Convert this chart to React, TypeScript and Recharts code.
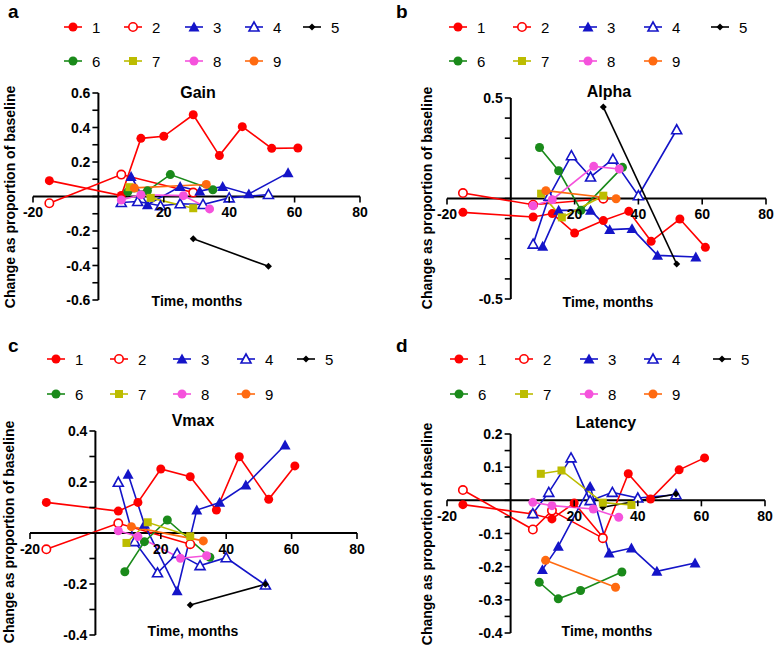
import { LineChart, Line, XAxis, YAxis, ReferenceLine } from 'recharts'

const FONT = 'Arial, "Liberation Sans", Helvetica, sans-serif'

// visit times (months) per patient
const MONTHS_1 = [-15, 7, 13, 20, 29, 37, 44, 53, 61]
const MONTHS_2 = [-15, 7, 13, 29]
const MONTHS_3 = [10, 15, 25, 31, 38, 46, 58]
const MONTHS_4 = [7, 12, 19, 25, 32, 40, 52]
const MONTHS_5 = [29, 52]
const MONTHS_6 = [9, 15, 22, 35]
const MONTHS_7 = [9.5, 16, 29, 38]
const MONTHS_8 = [7, 13, 26, 34]
const MONTHS_9 = [11, 33]

// Gain
const GAIN_1 = [0.092, 0.006, 0.337, 0.349, 0.474, 0.237, 0.405, 0.279, 0.281]
const GAIN_2 = [-0.039, 0.127, null, 0.023]
const GAIN_3 = [0.116, -0.048, 0.058, 0.031, 0.058, 0.015, 0.137]
const GAIN_4 = [-0.035, -0.029, -0.054, -0.042, -0.046, -0.008, 0.012]
const GAIN_5 = [-0.245, -0.405]
const GAIN_6 = [0.027, 0.033, 0.127, 0.039]
const GAIN_7 = [0.054, -0.008, -0.068, null]
const GAIN_8 = [-0.02, 0.01, 0.005, -0.072]
const GAIN_9 = [0.05, 0.07]

// Alpha
const ALPHA_1 = [-0.069, -0.092, -0.075, -0.172, -0.11, -0.064, -0.213, -0.102, -0.243]
const ALPHA_2 = [0.027, -0.031, null, -0.001]
const ALPHA_3 = [-0.238, -0.059, -0.059, -0.155, -0.15, -0.283, -0.291]
const ALPHA_4 = [-0.227, 0.011, 0.213, 0.107, 0.196, 0.014, 0.342]
const ALPHA_5 = [0.455, -0.326]
const ALPHA_6 = [0.254, 0.138, -0.059, 0.155]
const ALPHA_7 = [0.024, -0.094, 0.014, null]
const ALPHA_8 = [-0.036, -0.006, 0.16, 0.147]
const ALPHA_9 = [0.039, -0.001]

// Vmax
const VMAX_1 = [0.12, 0.086, 0.12, 0.251, 0.221, 0.09, 0.299, 0.132, 0.263]
const VMAX_2 = [-0.064, 0.038, null, -0.044]
const VMAX_3 = [0.23, 0.034, -0.227, 0.09, 0.12, 0.188, 0.345]
const VMAX_4 = [0.199, -0.034, -0.156, -0.08, -0.128, -0.097, -0.204]
const VMAX_5 = [-0.282, -0.201]
const VMAX_6 = [-0.152, -0.034, 0.051, -0.095]
const VMAX_7 = [-0.039, 0.042, -0.013, null]
const VMAX_8 = [0.009, -0.014, -0.099, -0.089]
const VMAX_9 = [0.025, -0.031]

// Latency
const LAT_1 = [-0.013, -0.041, -0.056, -0.008, -0.111, 0.08, 0.004, 0.092, 0.128]
const LAT_2 = [0.031, -0.088, -0.031, -0.114]
const LAT_3 = [-0.209, -0.139, 0.042, -0.159, -0.144, -0.214, -0.189]
const LAT_4 = [-0.04, 0.024, 0.128, -0.001, 0.024, 0.007, 0.017]
const LAT_5 = [-0.021, 0.019]
const LAT_6 = [-0.247, -0.297, -0.272, -0.216]
const LAT_7 = [0.08, 0.09, -0.007, -0.014]
const LAT_8 = [-0.006, -0.016, -0.026, -0.051]
const LAT_9 = [-0.181, -0.262]

const X_TICKS = [-20, 20, 40, 60, 80]
const GAIN_TICKS = [-0.6, -0.5, -0.4, -0.3, -0.2, -0.1, 0, 0.1, 0.2, 0.3, 0.4, 0.5, 0.6]
const GAIN_LABELS = [-0.6, -0.4, -0.2, 0.2, 0.4, 0.6]
const ALPHA_TICKS = [-0.5, -0.4, -0.3, -0.2, -0.1, 0, 0.1, 0.2, 0.3, 0.4, 0.5]
const ALPHA_LABELS = [-0.5, 0.5]
const VMAX_TICKS = [-0.4, -0.3, -0.2, -0.1, 0, 0.1, 0.2, 0.3, 0.4]
const VMAX_LABELS = [-0.4, -0.2, 0.2, 0.4]
const LAT_TICKS = [-0.4, -0.35, -0.3, -0.25, -0.2, -0.15, -0.1, -0.05, 0, 0.05, 0.1, 0.15, 0.2]
const LAT_LABELS = [-0.4, -0.3, -0.2, -0.1, 0.1, 0.2]

const SERIES = [
  { name: '1', color: '#ff0000', shape: 'circle', months: MONTHS_1 },
  { name: '2', color: '#ff0000', shape: 'circleOpen', months: MONTHS_2 },
  { name: '3', color: '#1414c8', shape: 'triangle', months: MONTHS_3 },
  { name: '4', color: '#1414c8', shape: 'triangleOpen', months: MONTHS_4 },
  { name: '5', color: '#000000', shape: 'diamond', months: MONTHS_5 },
  { name: '6', color: '#1a8a1a', shape: 'circle', months: MONTHS_6 },
  { name: '7', color: '#bcbc00', shape: 'square', months: MONTHS_7 },
  { name: '8', color: '#f552dc', shape: 'circle', months: MONTHS_8 },
  { name: '9', color: '#ff6a10', shape: 'circle', months: MONTHS_9 },
]

// plot box inside each panel: left/top/right/bottom offsets in px
const PANELS = [
  {
    letter: 'a', title: 'Gain', left: 0, top: 0, width: 389, height: 323,
    plot: { top: 93, right: 29, bottom: 23, left: 33 },
    yDomain: [-0.6, 0.6], yTicks: GAIN_TICKS, yLabels: GAIN_LABELS,
    values: [GAIN_1, GAIN_2, GAIN_3, GAIN_4, GAIN_5, GAIN_6, GAIN_7, GAIN_8, GAIN_9],
    letterPos: [8, 17.5], titlePos: [198, 97.5], xLabelPos: [197, 306], yLabelPos: [10, 197],
    legendX: [64, 124, 185, 245, 303], legendY: [27, 61],
  },
  {
    letter: 'b', title: 'Alpha', left: 389, top: 0, width: 389, height: 323,
    plot: { top: 98, right: 12, bottom: 24, left: 58 },
    yDomain: [-0.5, 0.5], yTicks: ALPHA_TICKS, yLabels: ALPHA_LABELS,
    values: [ALPHA_1, ALPHA_2, ALPHA_3, ALPHA_4, ALPHA_5, ALPHA_6, ALPHA_7, ALPHA_8, ALPHA_9],
    letterPos: [396, 17.5], titlePos: [609, 96.5], xLabelPos: [608, 307], yLabelPos: [427, 198],
    legendX: [449, 513, 579, 644, 711], legendY: [27, 61],
  },
  {
    letter: 'c', title: 'Vmax', left: 0, top: 323, width: 389, height: 324,
    plot: { top: 108, right: 32, bottom: 12, left: 30 },
    yDomain: [-0.4, 0.4], yTicks: VMAX_TICKS, yLabels: VMAX_LABELS,
    values: [VMAX_1, VMAX_2, VMAX_3, VMAX_4, VMAX_5, VMAX_6, VMAX_7, VMAX_8, VMAX_9],
    letterPos: [8, 352], titlePos: [193, 425.5], xLabelPos: [193, 635.5], yLabelPos: [9, 532],
    legendX: [47, 110, 173, 237, 297], legendY: [359, 394],
  },
  {
    letter: 'd', title: 'Latency', left: 389, top: 323, width: 389, height: 324,
    plot: { top: 111, right: 13, bottom: 14, left: 58 },
    yDomain: [-0.4, 0.2], yTicks: LAT_TICKS, yLabels: LAT_LABELS,
    values: [LAT_1, LAT_2, LAT_3, LAT_4, LAT_5, LAT_6, LAT_7, LAT_8, LAT_9],
    letterPos: [396, 352], titlePos: [606, 427.5], xLabelPos: [607, 635.5], yLabelPos: [427, 534],
    legendX: [450, 515, 580, 644, 713], legendY: [359, 394],
  },
]

function Marker({ shape, color, cx, cy }: any) {
  const s = 5.5
  switch (shape) {
    case 'circleOpen':
      return <circle cx={cx} cy={cy} r={4.2} fill="#fff" stroke={color} strokeWidth={1.6} />
    case 'triangle':
      return <polygon points={`${cx},${cy - s} ${cx + s},${cy + s * 0.8} ${cx - s},${cy + s * 0.8}`} fill={color} />
    case 'triangleOpen':
      return (
        <polygon
          points={`${cx},${cy - 5} ${cx + 5},${cy + 4} ${cx - 5},${cy + 4}`}
          fill="#fff"
          stroke={color}
          strokeWidth={1.6}
        />
      )
    case 'diamond':
      return <polygon points={`${cx},${cy - 3.5} ${cx + 3.5},${cy} ${cx},${cy + 3.5} ${cx - 3.5},${cy}`} fill={color} />
    case 'square':
      return <rect x={cx - 4} y={cy - 4} width={8} height={8} fill={color} />
    default:
      return <circle cx={cx} cy={cy} r={4.5} fill={color} />
  }
}

const isLabel = (labels: number[], v: number) => labels.some((l) => Math.abs(l - v) < 1e-9)

function Panel({ p }: any) {
  const plotW = p.width - p.plot.left - p.plot.right
  const plotH = p.height - p.plot.top - p.plot.bottom
  // axes cross at (0, 0)
  const zeroX = p.plot.left + plotW * (20 / 100)
  const zeroY = p.plot.top + plotH * (p.yDomain[1] / (p.yDomain[1] - p.yDomain[0]))

  const renderYTick = (t: any) => (
    <g key={`y-${t.index}`}>
      <path d={`M${zeroX - 6},${t.y}H${zeroX}`} stroke="#000" strokeWidth={1.6} fill="none" />
      {isLabel(p.yLabels, t.payload.value) && (
        <text
          x={zeroX - 8}
          y={t.y}
          textAnchor="end"
          dominantBaseline="central"
          fontSize={14}
          fontWeight="bold"
          fontFamily={FONT}
          fill="#000"
        >
          {String(t.payload.value)}
        </text>
      )}
    </g>
  )

  const renderXTick = (t: any) => (
    <g key={`x-${t.index}`}>
      <path d={`M${t.x},${zeroY}V${zeroY + 6}`} stroke="#000" strokeWidth={1.6} fill="none" />
      <text
        x={t.x}
        y={zeroY + 20.5}
        textAnchor="middle"
        fontSize={14}
        fontWeight="bold"
        fontFamily={FONT}
        fill="#000"
      >
        {String(t.payload.value)}
      </text>
    </g>
  )

  return (
    <div style={{ position: 'absolute', left: p.left, top: p.top }}>
      <LineChart
        width={p.width}
        height={p.height}
        margin={{ top: p.plot.top, right: p.plot.right, left: 0, bottom: 0 }}
      >
        <XAxis
          type="number"
          dataKey="x"
          domain={[-20, 80]}
          ticks={X_TICKS}
          interval={0}
          height={p.plot.bottom}
          axisLine={false}
          tickLine={false}
          tick={renderXTick}
          allowDataOverflow
        />
        <YAxis
          type="number"
          domain={p.yDomain}
          ticks={p.yTicks}
          interval={0}
          width={p.plot.left}
          axisLine={false}
          tickLine={false}
          tick={renderYTick}
          allowDataOverflow
        />
        <ReferenceLine y={0} stroke="#000" strokeWidth={2} />
        <ReferenceLine x={0} stroke="#000" strokeWidth={2} />
        {SERIES.map((s, i) => (
          <Line
            key={s.name}
            name={s.name}
            data={s.months.map((m, j) => ({ x: m, y: p.values[i][j] }))}
            dataKey="y"
            type="linear"
            stroke={s.color}
            strokeWidth={1.6}
            connectNulls
            isAnimationActive={false}
            activeDot={false}
            dot={(d: any) =>
              d.cy == null || d.value == null ? (
                <g key={`d-${s.name}-${d.index}`} />
              ) : (
                <Marker key={`d-${s.name}-${d.index}`} shape={s.shape} color={s.color} cx={d.cx} cy={d.cy} />
              )
            }
          />
        ))}
      </LineChart>
    </div>
  )
}

function Overlay() {
  return (
    <svg
      width={778}
      height={647}
      style={{ position: 'absolute', left: 0, top: 0, pointerEvents: 'none' }}
      fontFamily={FONT}
    >
      {PANELS.map((p) => (
        <g key={p.letter}>
          <text x={p.letterPos[0]} y={p.letterPos[1]} fontSize={19} fontWeight="bold">
            {p.letter}
          </text>
          <text x={p.titlePos[0]} y={p.titlePos[1]} fontSize={16} fontWeight="bold" textAnchor="middle">
            {p.title}
          </text>
          <text x={p.xLabelPos[0]} y={p.xLabelPos[1]} fontSize={14} fontWeight="bold" textAnchor="middle">
            Time, months
          </text>
          <text
            x={p.yLabelPos[0]}
            y={p.yLabelPos[1]}
            fontSize={14}
            fontWeight="bold"
            textAnchor="middle"
            dominantBaseline="central"
            transform={`rotate(-90 ${p.yLabelPos[0]} ${p.yLabelPos[1]})`}
          >
            Change as proportion of baseline
          </text>
          {SERIES.map((s, i) => {
            const x = p.legendX[i % 5]
            const y = p.legendY[i < 5 ? 0 : 1]
            return (
              <g key={s.name}>
                <line x1={x} x2={x + 18} y1={y} y2={y} stroke={s.color} strokeWidth={1.6} />
                <Marker shape={s.shape} color={s.color} cx={x + 9} cy={y} />
                <text x={x + 28} y={y} fontSize={15} dominantBaseline="central">
                  {s.name}
                </text>
              </g>
            )
          })}
        </g>
      ))}
    </svg>
  )
}

export default function App() {
  return (
    <div style={{ position: 'absolute', left: 0, top: 0, width: 778, height: 647, background: '#fff' }}>
      {PANELS.map((p) => (
        <Panel key={p.letter} p={p} />
      ))}
      <Overlay />
    </div>
  )
}
